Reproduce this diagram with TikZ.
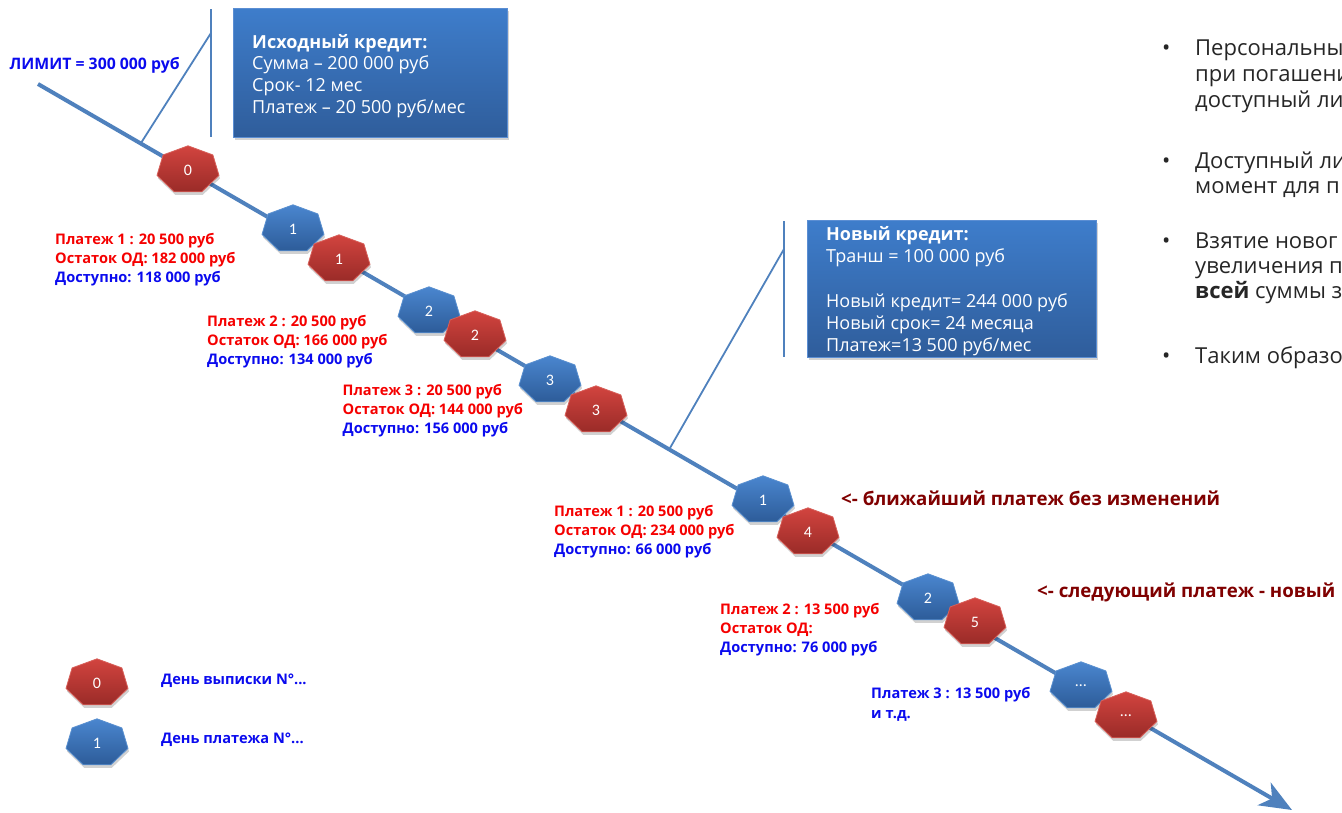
\documentclass[tikz,border=0pt]{standalone}
\usepackage{fontspec}
\setmainfont{Open Sans}
\newfontfamily\numfont{Carlito}
\usetikzlibrary{arrows.meta,shadows}
\definecolor{lineblue}{HTML}{4F81BD}
\definecolor{lblred}{HTML}{F50000}
\definecolor{lblblue}{HTML}{0A0AEE}
\definecolor{darkred}{HTML}{800000}
\definecolor{hbtop}{HTML}{4A86CF}
\definecolor{hbbot}{HTML}{2D5C99}
\definecolor{hbedge}{HTML}{5A90D0}
\definecolor{hrtop}{HTML}{D2443F}
\definecolor{hrbot}{HTML}{9A2B28}
\definecolor{hredge}{HTML}{D8605A}
\definecolor{boxtop}{HTML}{3E7DCB}
\definecolor{boxbot}{HTML}{2F5D9B}
\definecolor{boxedge}{HTML}{5B8ED3}
\newcommand\heptagon[5]{%
  \begin{scope}[shift={(#2,#3)}]
    \fill[black, opacity=.18, shift={(1,3)}, xscale=31.8, yscale=24.2]
      (-90:1) -- (-38.57:1) -- (12.86:1) -- (64.29:1) -- (115.71:1) -- (167.14:1) -- (218.57:1) -- cycle;
    \shade[top color=#4top, bottom color=#4bot, draw=#4edge, line width=.8pt, xscale=31.8, yscale=24.2]
      (-90:1) -- (-38.57:1) -- (12.86:1) -- (64.29:1) -- (115.71:1) -- (167.14:1) -- (218.57:1) -- cycle;
  \end{scope}
  \node[heptlabel] (#1) at (#2,#3) {#5};
}
\tikzset{
  heptlabel/.style={text=white, inner sep=0pt, font=\numfont\fontsize{16}{18}\selectfont},
  lbl/.style={anchor=base west, inner sep=0pt, font=\fontsize{14.6}{17}\selectfont\bfseries},
  redt/.style={lbl, text=lblred},
  bluet/.style={lbl, text=lblblue},
  notet/.style={anchor=base west, inner sep=0pt, text=darkred, font=\fontsize{18.7}{22}\selectfont\bfseries},
  boxt/.style={anchor=base west, inner sep=0pt, text=white, font=\fontsize{18}{21}\selectfont},
  boxbg/.style={anchor=north west, top color=boxtop, bottom color=boxbot, draw=boxedge, line width=.6pt,
    drop shadow={shadow xshift=2pt, shadow yshift=-3pt, opacity=.35}},
  rt/.style={anchor=base west, inner sep=0pt, text=black!85, font=\fontsize{22}{26}\selectfont},
  callout/.style={draw=lineblue, line width=1.8pt},
}
\begin{document}
\begin{tikzpicture}[x=1pt,y=-1pt]
\useasboundingbox (0,0) rectangle (1342,812);

% main time axis
\coordinate (start) at (38,84);
\coordinate (end) at (1292,810);
\draw[lineblue, line width=4pt, -{Stealth[length=32pt,width=26pt,inset=9pt]}] (start) -- (end);

% callout 1
\coordinate (v1top) at (211,9);
\coordinate (v1bot) at (211,137);
\coordinate (c1a) at (211,33);
\coordinate (c1b) at (141,143);
\draw[callout] (v1top) -- (v1bot);
\draw[callout] (c1a) -- (c1b);

% callout 2
\coordinate (v2top) at (784,221);
\coordinate (v2bot) at (784,357);
\coordinate (c2a) at (784,249);
\coordinate (c2b) at (670,448);
\draw[callout] (v2top) -- (v2bot);
\draw[callout] (c2a) -- (c2b);

% heptagons
\heptagon{r0}{188}{170}{hr}{0}
\heptagon{b1}{293}{229}{hb}{1}
\heptagon{r1}{339}{259}{hr}{1}
\heptagon{b2}{429}{311}{hb}{2}
\heptagon{r2}{475}{335}{hr}{2}
\heptagon{b3}{550}{380}{hb}{3}
\heptagon{r3}{596}{410}{hr}{3}
\heptagon{nb1}{763}{500}{hb}{1}
\heptagon{r4}{808}{532}{hr}{4}
\heptagon{nb2}{928}{598}{hb}{2}
\heptagon{r5}{975}{622}{hr}{5}
\heptagon{bdots}{1081}{686}{hb}{…}
\heptagon{rdots}{1126}{716}{hr}{…}
\heptagon{legr}{97}{683}{hr}{0}
\heptagon{legb}{97}{743}{hb}{1}

% boxes
\node[boxbg, minimum width=274pt, minimum height=129pt] (box1) at (233,8) {};
\node[boxt, font=\fontsize{18}{21}\selectfont\bfseries] (box1t1) at (252,48) {Исходный кредит:};
\node[boxt] (box1t2) at (252,69.5) {Сумма – 200 000 руб};
\node[boxt] (box1t3) at (252,91.5) {Срок- 12 мес};
\node[boxt] (box1t4) at (252,113.5) {Платеж – 20 500 руб/мес};

\node[boxbg, minimum width=289pt, minimum height=137pt] (box2) at (807,220) {};
\node[boxt, font=\fontsize{18}{21}\selectfont\bfseries] (box2t1) at (826,240) {Новый кредит:};
\node[boxt] (box2t2) at (826,262) {Транш = 100 000 руб};
\node[boxt] (box2t3) at (826,307) {Новый кредит= 244 000 руб};
\node[boxt] (box2t4) at (826,329) {Новый срок= 24 месяца};
\node[boxt] (box2t5) at (826,351.5) {Платеж=13 500 руб/мес};

% labels
\node[bluet, font=\fontsize{15.8}{18}\selectfont\bfseries] (limit) at (9.5,69) {ЛИМИТ = 300 000 руб};

\node[redt] (g1a) at (55,244.5) {Платеж 1 : 20 500 руб};
\node[redt] (g1b) at (55,263.5) {Остаток ОД: 182 000 руб};
\node[bluet] (g1c) at (55,282.5) {Доступно: 118 000 руб};

\node[redt] (g2a) at (207,326) {Платеж 2 : 20 500 руб};
\node[redt] (g2b) at (207,345.5) {Остаток ОД: 166 000 руб};
\node[bluet] (g2c) at (207,364.5) {Доступно: 134 000 руб};

\node[redt] (g3a) at (342.5,395) {Платеж 3 : 20 500 руб};
\node[redt] (g3b) at (342.5,414.5) {Остаток ОД: 144 000 руб};
\node[bluet] (g3c) at (342.5,433.5) {Доступно: 156 000 руб};

\node[redt] (g4a) at (554,516) {Платеж 1 : 20 500 руб};
\node[redt] (g4b) at (554,535.5) {Остаток ОД: 234 000 руб};
\node[bluet] (g4c) at (554,554.5) {Доступно: 66 000 руб};

\node[redt] (g5a) at (720,614) {Платеж 2 : 13 500 руб};
\node[redt] (g5b) at (720,633) {Остаток ОД:};
\node[bluet] (g5c) at (720,652.5) {Доступно: 76 000 руб};

\node[bluet] (g6a) at (871,698) {Платеж 3 : 13 500 руб};
\node[bluet] (g6b) at (871,718) {и т.д.};

\node[notet] (note1) at (841,505) {<- ближайший платеж без изменений};
\node[notet] (note2) at (1037,597) {<- следующий платеж - новый};

\node[bluet] (leg1) at (161,684) {День выписки N°...};
\node[bluet] (leg2) at (161,743.5) {День платежа N°...};

% right-hand bullets (cut at the page edge)
\node[rt] (bu1) at (1162,55) {•};
\node[rt] (t1a) at (1195,55) {Персональны};
\node[rt] (t1b) at (1195,81) {при погашени};
\node[rt] (t1c) at (1195,107) {доступный ли};
\node[rt] (bu2) at (1162,168) {•};
\node[rt] (t2a) at (1195,168) {Доступный ли};
\node[rt] (t2b) at (1195,193.5) {момент для п};
\node[rt] (bu3) at (1162,248) {•};
\node[rt] (t3a) at (1195,248) {Взятие новог};
\node[rt] (t3b) at (1195,273.5) {увеличения п};
\node[rt] (t3c) at (1195,298.5) {\textbf{всей} суммы з};
\node[rt] (bu4) at (1162,363) {•};
\node[rt] (t4a) at (1195,363) {Таким образо};
\end{tikzpicture}
\end{document}
